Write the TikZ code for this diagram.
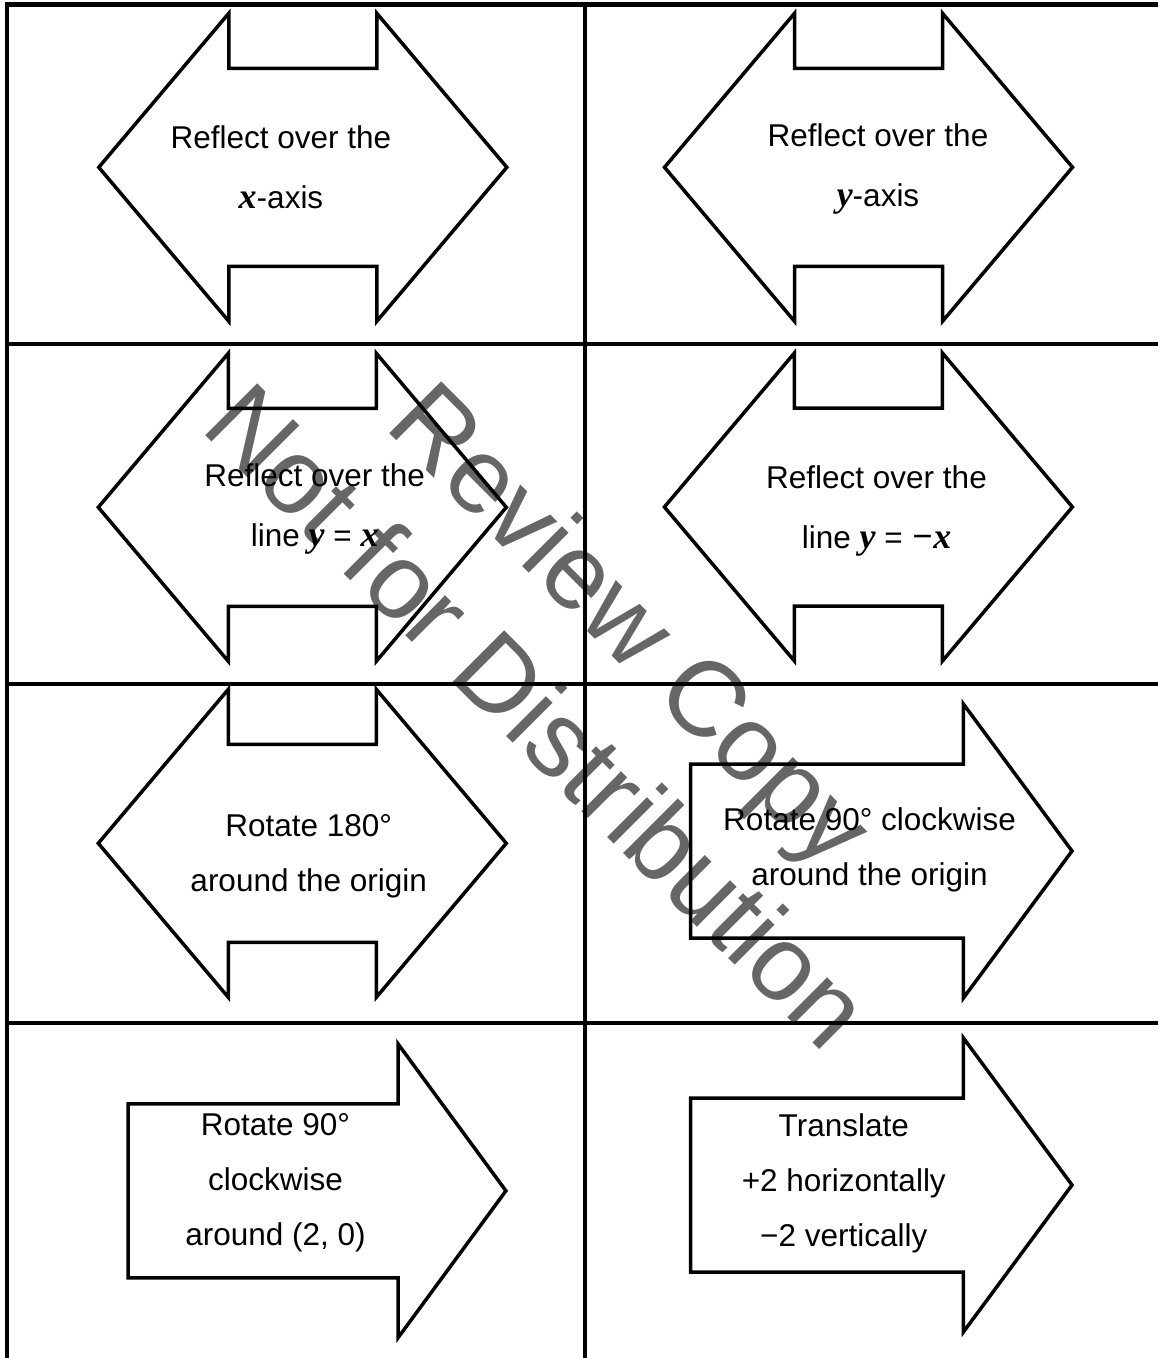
\documentclass[tikz,border=0pt]{standalone}
\usepackage{fontspec}
\setmainfont{Liberation Sans}
\newfontfamily\serifvar{Liberation Serif}

% bold italic variable letters
\newcommand{\mvar}[1]{{\serifvar\bfseries\itshape\fontsize{18}{20}\selectfont #1}}

% left-right double arrow, centred at (#1,#2)
\newcommand{\flipshape}[2]{%
  \draw[cardline, shift={(#1,#2)}]
    (-74,-154) -- (-74,-99) -- (74,-99) -- (74,-154) -- (204,0)
    -- (74,154) -- (74,99) -- (-74,99) -- (-74,154) -- (-204,0) -- cycle;}

% right arrow: tail x, head base x, tip x, centre y
\newcommand{\turnshape}[4]{%
  \draw[cardline, shift={(0,#4)}]
    (#1,-87) -- (#2,-87) -- (#2,-147) -- (#3,0)
    -- (#2,147) -- (#2,87) -- (#1,87) -- cycle;}

\begin{document}
\begin{tikzpicture}[x=0.5pt, y=-0.5pt,
  grid line/.style={line width=2.25pt, black},
  cardline/.style={line width=1.75pt, black},
  cardtext/.style={align=center, inner sep=0pt,
                   font=\fontsize{15.75}{30}\selectfont},
  cardtext tight/.style={cardtext, font=\fontsize{15.75}{27.5}\selectfont},
  stamp/.style={rotate=-45, anchor=base, inner sep=0pt, text=black!60,
                font=\fontsize{53.4}{60}\selectfont}
]
  \useasboundingbox (0,0) rectangle (1158,1358);

  % watermark
  \node[stamp] (review) at (606,650) {Review Copy};
  \node[stamp] (nodist) at (512,742) {Not for Distribution};

  % card grid
  \draw[grid line] (5,4.5) -- (1158,4.5);
  \foreach \y in {344,684,1023}
    \draw[grid line] (7,\y) -- (1158,\y);
  \draw[grid line] (7,2.5)   -- (7,1358);
  \draw[grid line] (585,2.5) -- (585,1358);

  % shapes
  \flipshape{302.8}{167.3}
  \flipshape{868.5}{167.3}
  \flipshape{302.3}{507.3}
  \flipshape{868.4}{507}
  \flipshape{302.3}{843.3}
  \turnshape{690.6}{963.4}{1072}{851}
  \turnshape{128.2}{398}{505.9}{1190.8}
  \turnshape{690.6}{963.4}{1072}{1185}

  % card texts
  \node[cardtext] (xaxis)  at (281,167.5)   {Reflect over the\\\mvar{x}-axis};
  \node[cardtext] (yaxis)  at (878,168.5)   {Reflect over the\\\mvar{y}-axis};
  \node[cardtext] (yeqx)   at (314.7,508.5) {Reflect over the\\line \mvar{y} = \mvar{x}};
  \node[cardtext] (yeqnx)  at (876.5,511)   {Reflect over the\\line \mvar{y} = \mvar{−x}};
  \node[cardtext tight] (rot180) at (308.7,856.5)  {Rotate 180°\\around the origin};
  \node[cardtext tight] (rot90)  at (869.6,850)    {Rotate 90° clockwise\\around the origin};
  \node[cardtext tight] (rot90p) at (275.5,1182.5) {Rotate 90°\\clockwise\\around (2, 0)};
  \node[cardtext tight] (shift)  at (843.8,1183)   {Translate\\+2 horizontally\\−2 vertically};
\end{tikzpicture}
\end{document}
